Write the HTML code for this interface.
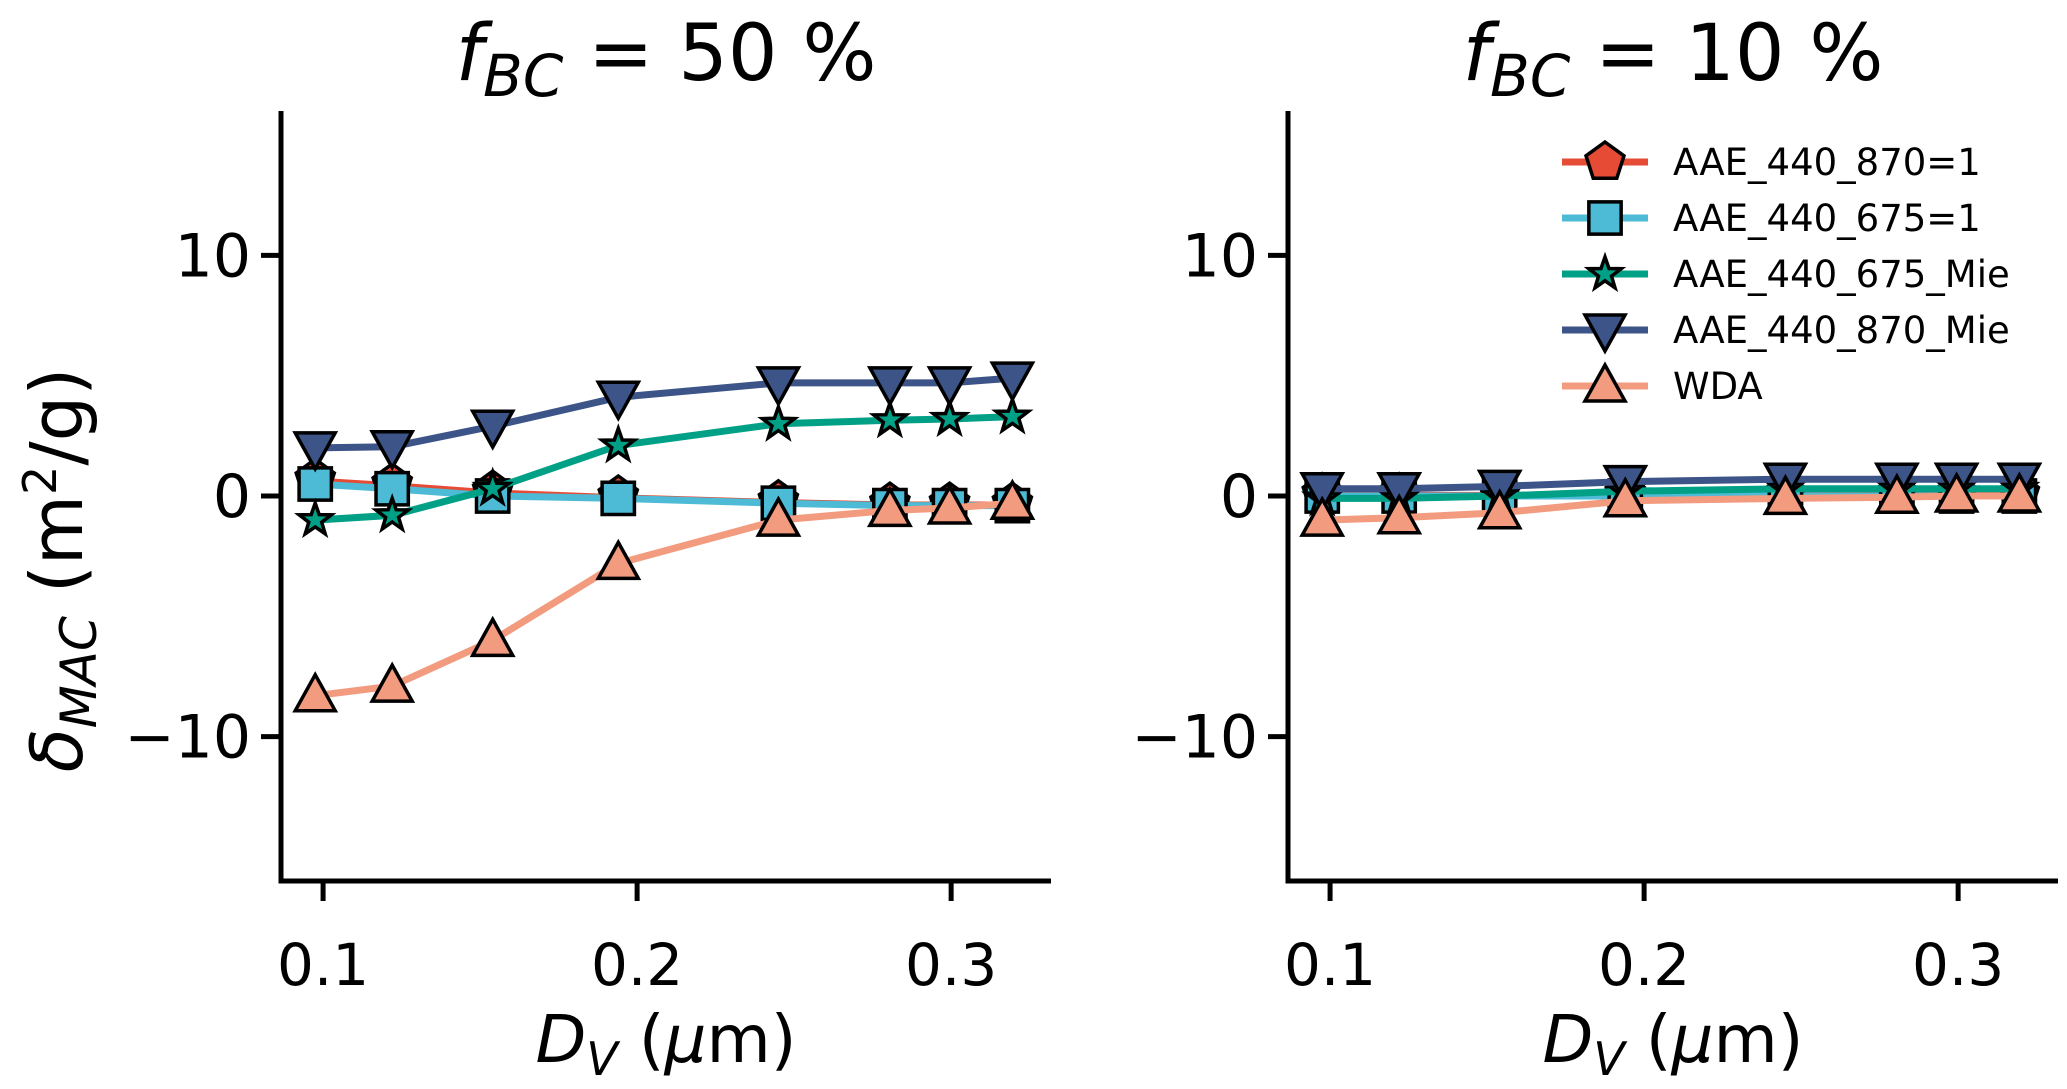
<!DOCTYPE html>
<html><head><meta charset="utf-8"><style>
html,body{margin:0;padding:0;background:#fff}
svg{display:block;font-family:"DejaVu Sans","Liberation Sans",sans-serif}
</style></head><body>
<svg id="chart" width="2067" height="1089" viewBox="0 0 2067 1089" xmlns="http://www.w3.org/2000/svg"></svg>
<script>
const xValues = [0.0975, 0.122, 0.154, 0.194, 0.245, 0.2805, 0.2995, 0.3195];
const seriesNames = ["AAE_440_870=1","AAE_440_675=1","AAE_440_675_Mie","AAE_440_870_Mie","WDA"];
const left870one = [0.7, 0.5, 0.2, 0.0, -0.2, -0.3, -0.3, -0.3];
const left675one = [0.5, 0.3, 0.0, -0.1, -0.3, -0.4, -0.4, -0.4];
const left675mie = [-1.0, -0.8, 0.3, 2.1, 3.0, 3.15, 3.2, 3.3];
const left870mie = [2.0, 2.05, 2.9, 4.1, 4.7, 4.7, 4.7, 4.9];
const leftWDA = [-8.3, -7.9, -6.0, -2.8, -1.0, -0.6, -0.5, -0.3];
const right870one = [0.1, 0.1, 0.1, 0.1, 0.1, 0.1, 0.1, 0.1];
const right675one = [0.0, 0.0, 0.0, 0.0, 0.0, 0.0, 0.0, 0.0];
const right675mie = [-0.1, -0.1, 0.0, 0.2, 0.3, 0.3, 0.3, 0.3];
const right870mie = [0.3, 0.3, 0.4, 0.6, 0.7, 0.7, 0.7, 0.7];
const rightWDA = [-1.0, -0.9, -0.7, -0.2, -0.1, -0.05, 0.0, 0.0];
const xTicks = [0.1, 0.2, 0.3];
const xTickLabels = ["0.1","0.2","0.3"];
const yTicks = [10, 0, -10];
const yTickLabels = ["10","0","\u221210"];

const NS = "http://www.w3.org/2000/svg";
const svg = document.getElementById('chart');
function el(tag, attrs, parent){const e=document.createElementNS(NS,tag);for(const k in attrs)e.setAttribute(k,attrs[k]);(parent||svg).appendChild(e);return e;}
const colors = ["#e64b35","#4dbbd5","#00a087","#3c5488","#f39b7f"];
const markers = ["pentagon","square","star","tridown","triup"];
const widths = [3.5,7,7,7,7];
const Y0=111, Y1=881, ymin=-16, ymax=16, xmin=0.0866, xmax=0.3318;

function markerPath(type,cx,cy,r){
  let pts=[];
  if(type==="square"){return `M${cx-r*0.85},${cy-r*0.85}h${r*1.7}v${r*1.7}h${-r*1.7}z`;}
  if(type==="pentagon"){for(let i=0;i<5;i++){const a=-Math.PI/2+i*2*Math.PI/5;pts.push([cx+r*Math.cos(a),cy+r*Math.sin(a)]);}}
  if(type==="star"){for(let i=0;i<10;i++){const a=-Math.PI/2+i*Math.PI/5;const rr=i%2?r*0.4:r;pts.push([cx+rr*Math.cos(a),cy+rr*Math.sin(a)]);}}
  if(type==="triup"){pts=[[cx,cy-r*1.05],[cx+r,cy+r*0.75],[cx-r,cy+r*0.75]];}
  if(type==="tridown"){pts=[[cx,cy+r*1.05],[cx+r,cy-r*0.75],[cx-r,cy-r*0.75]];}
  return "M"+pts.map(p=>p[0].toFixed(1)+","+p[1].toFixed(1)).join("L")+"Z";
}
function rOf(t){return t==="star"?17:(t==="square"?19:20);}

function panel(X0,X1,series,title,prefix){
  const sx=v=>X0+(v-xmin)/(xmax-xmin)*(X1-X0);
  const sy=v=>Y1-(v-ymin)/(ymax-ymin)*(Y1-Y0);
  const g=el('g',{});
  
  
  series.forEach((vals,si)=>{
    const sg=el('g',{},g);
    
    
    const d=vals.map((v,i)=>(i?'L':'M')+sx(xValues[i]).toFixed(1)+','+sy(v).toFixed(1)).join('');
    el('path',{d:d,fill:'none',stroke:colors[si],'stroke-width':widths[si],'stroke-linejoin':'round'},sg);
    vals.forEach((v,i)=>{
      const m=el('path',{d:markerPath(markers[si],sx(xValues[i]),sy(v),rOf(markers[si])),fill:colors[si],stroke:'#000','stroke-width':3.5,'stroke-linejoin':'miter'},sg);
      
      
    });
  });
  const ax=el('path',{d:`M${X0},${Y0}V${Y1}H${X1}`,fill:'none',stroke:'#000','stroke-width':5},g);
  
  
  yTicks.forEach((t,i)=>{
    el('line',{x1:X0-20,x2:X0,y1:sy(t),y2:sy(t),stroke:'#000','stroke-width':5},g);
    const tx=el('text',{x:X0-30,y:sy(t)+21,'text-anchor':'end','font-size':60,fill:'#000'},g);
    tx.textContent=yTickLabels[i];
    
    
  });
  xTicks.forEach((t,i)=>{
    el('line',{x1:sx(t),x2:sx(t),y1:Y1,y2:Y1+20,stroke:'#000','stroke-width':5},g);
    const tx=el('text',{x:sx(t),y:985,'text-anchor':'middle','font-size':58,fill:'#000'},g);
    tx.textContent=xTickLabels[i];
    
    
  });
  const xl=el('text',{x:(X0+X1)/2,y:1062,'text-anchor':'middle','font-size':66,fill:'#000'},g);
  xl.innerHTML='<tspan font-style="italic">D</tspan><tspan font-style="italic" font-size="46" dy="13">V</tspan><tspan dy="-13"> (</tspan><tspan font-style="italic">μ</tspan><tspan>m)</tspan>';
  
  
  const tt=el('text',{x:(X0+X1)/2,y:80,'text-anchor':'middle','font-size':78,fill:'#000'},g);
  tt.innerHTML='<tspan font-style="italic">f</tspan><tspan font-style="italic" font-size="58" dy="16">BC</tspan><tspan dy="-16"> = '+title+'</tspan>';
  
  
}
panel(281,1051,[left870one,left675one,left675mie,left870mie,leftWDA],'50 %','left');
panel(1288,2058,[right870one,right675one,right675mie,right870mie,rightWDA],'10 %','right');

const yl=el('text',{transform:'translate(82,570) rotate(-90)','text-anchor':'middle','font-size':72,fill:'#000'});
yl.innerHTML='<tspan font-style="italic">δ</tspan><tspan font-style="italic" font-size="50" dy="14">MAC</tspan><tspan dy="-14"> (m</tspan><tspan font-size="46" dy="-26">2</tspan><tspan dy="26">/g)</tspan>';



const lg=el('g',{});


seriesNames.forEach((n,i)=>{
  const y=162+i*56;
  const eg=el('g',{},lg);
  
  
  el('line',{x1:1562,x2:1648,y1:y,y2:y,stroke:colors[i],'stroke-width':7},eg);
  el('path',{d:markerPath(markers[i],1605,y,rOf(markers[i])),fill:colors[i],stroke:'#000','stroke-width':3.5},eg);
  const t=el('text',{x:1673,y:y+13,'font-size':37,fill:'#000'},eg);
  t.textContent=n;
});
</script>
</body></html>
